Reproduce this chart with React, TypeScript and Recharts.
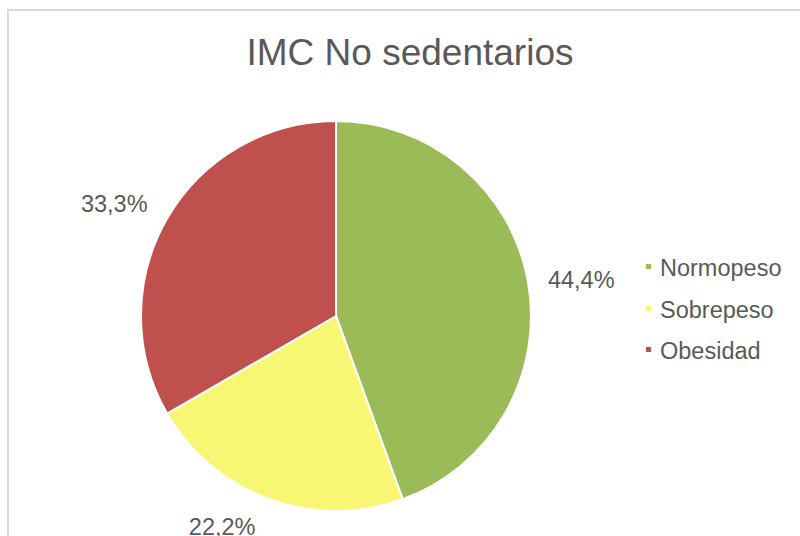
import React from 'react';
import { PieChart, Pie, Cell, Legend } from 'recharts';

const categories = ['Normopeso', 'Sobrepeso', 'Obesidad'];
const counts = [4, 2, 3];
const colors = ['#9BBB59', '#F7F774', '#C0504D'];

// per-label nudges (layout only) to mimic Excel's label placement
const labelNudge = [
  { dx: 1, dy: 7 },
  { dx: -29, dy: -22 },
  { dx: -7, dy: 12 },
];

const data = categories.map((name, i) => ({ name, value: counts[i] }));

const FONT = '"Liberation Sans", Arial, sans-serif';
const TEXT = '#595959';
const RAD = Math.PI / 180;

const renderLabel = (props: any) => {
  const { cx, cy, midAngle, outerRadius, percent, index } = props;
  const r = outerRadius + 53;
  const x = cx + r * Math.cos(-midAngle * RAD) + labelNudge[index].dx;
  const y = cy + r * Math.sin(-midAngle * RAD) + labelNudge[index].dy;
  return (
    <text
      x={x}
      y={y}
      textAnchor="middle"
      dominantBaseline="central"
      fill={TEXT}
      fontSize={23.5}
      fontFamily={FONT}
    >
      {(percent * 100).toFixed(1).replace('.', ',')}%
    </text>
  );
};

const renderLegend = () => (
  <div style={{ fontFamily: FONT, fontSize: 23.5, color: TEXT }}>
    {categories.map((name, i) => (
      <div key={name} style={{ position: 'relative', height: 41.5, lineHeight: '41.5px' }}>
        <span
          style={{
            position: 'absolute',
            left: 1,
            top: 16,
            width: 5,
            height: 5,
            background: colors[i],
          }}
        />
        <span style={{ position: 'absolute', left: 15, top: 0, whiteSpace: 'nowrap' }}>{name}</span>
      </div>
    ))}
  </div>
);

export default function App() {
  return (
    <div
      style={{
        position: 'fixed',
        left: 0,
        top: 0,
        width: 800,
        height: 536,
        overflow: 'hidden',
        background: '#fff',
      }}
    >
      <div
        style={{
          position: 'absolute',
          left: 7,
          top: 9,
          width: 900,
          height: 700,
          border: '2px solid #d9d9d9',
        }}
      />
      <div
        style={{
          position: 'absolute',
          left: 110,
          top: 33.7,
          width: 600,
          textAlign: 'center',
          fontFamily: FONT,
          fontSize: 37,
          lineHeight: '37px',
          color: TEXT,
        }}
      >
        IMC No sedentarios
      </div>
      <div style={{ position: 'absolute', left: 0, top: 0 }}>
        <PieChart width={800} height={536} margin={{ top: 0, right: 0, bottom: 0, left: 0 }}>
          <Pie
            data={data}
            dataKey="value"
            nameKey="name"
            cx={336}
            cy={316}
            outerRadius={195}
            startAngle={90}
            endAngle={-270}
            stroke="#fff"
            strokeWidth={2}
            label={renderLabel}
            labelLine={false}
            isAnimationActive={false}
          >
            {data.map((d, i) => (
              <Cell key={d.name} fill={colors[i]} />
            ))}
          </Pie>
          <Legend
            content={renderLegend}
            wrapperStyle={{ position: 'absolute', left: 645, top: 248, width: 160, height: 130 }}
          />
        </PieChart>
      </div>
    </div>
  );
}
